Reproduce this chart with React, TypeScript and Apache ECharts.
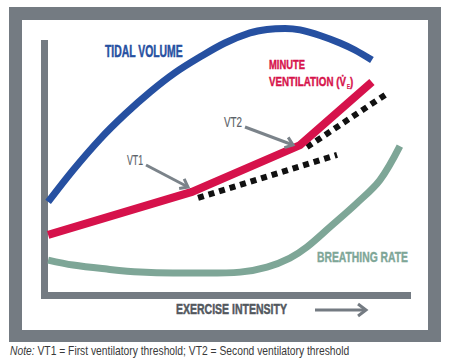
import React, { useEffect, useRef } from 'react';
import * as echarts from 'echarts';

// Exercise intensity (0-100, arbitrary units) and relative response (0-100)
const tvIntensity = [1, 7.9, 15.3, 22.2, 29.1, 35.9, 42.8, 49.7, 56.6, 61.3, 66.3, 70.4, 75.9, 81.4, 85.5, 90.2];
const tidalVolume = [37.0, 49.7, 62.0, 71.9, 80.7, 88.3, 94.6, 100.2, 104.2, 105.6, 106.0, 105.4, 103.2, 100.2, 97.4, 93.4];

const veIntensity = [1, 40.6, 70.4, 90.2];
const minuteVentilation = [23.9, 41.0, 59.6, 84.7];

const ext1Intensity = [42.3, 80.6];
const ext1Values = [38.6, 55.7];
const ext2Intensity = [72.3, 94.6];
const ext2Values = [58.8, 80.3];

const brIntensity = [1, 7.9, 17.2, 26.3, 35.4, 44.8, 53.9, 61.3, 67.6, 72.3, 78.6, 86.1, 92.4, 97.9];
const breathingRate = [13.9, 11.9, 10.3, 9.1, 8.7, 8.7, 9.1, 11.1, 14.7, 19.1, 27.0, 36.6, 45.7, 59.2];

const labels = {
  tv: 'TIDAL VOLUME',
  minute: 'MINUTE',
  vent: 'VENTILATION (V\u0307',
  ventSub: 'E',
  ventClose: ')',
  br: 'BREATHING RATE',
  vt1: 'VT1',
  vt2: 'VT2',
  xTitle: 'EXERCISE INTENSITY',
  noteItalic: 'Note:',
  note: ' VT1 = First ventilatory threshold; VT2 = Second ventilatory threshold',
};

const zip = (a: number[], b: number[]) => a.map((v, i) => [v, b[i]]);

const BLUE = '#2650a1';
const RED = '#d6124b';
const GREEN = '#7ea697';
const FRAME = '#747b82';
const ARROW = '#7b838a';
const FONT = "'Liberation Sans Narrow', 'Liberation Sans', Arial, sans-serif";

let measureCtx: CanvasRenderingContext2D | null = null;
function measure(text: string, size: number, weight: string, style = 'normal') {
  if (!measureCtx) measureCtx = document.createElement('canvas').getContext('2d');
  if (!measureCtx) return text.length * size * 0.5;
  measureCtx.font = `${style} ${weight} ${size}px ${FONT}`;
  return measureCtx.measureText(text).width;
}

function arrow(x1: number, y1: number, x2: number, y2: number, color: string, w: number, head: number) {
  const a = Math.atan2(y2 - y1, x2 - x1);
  const s = 0.65;
  return [
    { type: 'line', z: 100, shape: { x1, y1, x2, y2 }, style: { stroke: color, lineWidth: w } },
    {
      type: 'polyline', z: 100,
      shape: {
        points: [
          [x2 - head * Math.cos(a - s), y2 - head * Math.sin(a - s)],
          [x2, y2],
          [x2 - head * Math.cos(a + s), y2 - head * Math.sin(a + s)],
        ],
      },
      style: { stroke: color, lineWidth: w, fill: null },
    },
  ];
}

// text fitted to a target width (the reference uses a condensed face)
function txt(text: string, x: number, y: number, color: string, size: number, bold: boolean, width: number, stroke = 0) {
  const weight = bold ? 'bold' : 'normal';
  const sx = width / measure(text, size, weight);
  return {
    type: 'text', z: 100, x, y, scaleX: sx, scaleY: 1,
    style: {
      text, fill: color, fontSize: size, fontWeight: weight, fontFamily: FONT,
      align: 'left', verticalAlign: 'middle',
      ...(stroke ? { stroke: color, lineWidth: stroke } : {}),
    },
  };
}

export default function App() {
  const ref = useRef<HTMLDivElement>(null);
  useEffect(() => {
    const chart = echarts.init(ref.current!, null, { renderer: 'svg' });
    const axisLine = { show: true, lineStyle: { color: FRAME, width: 7, cap: 'square' } };
    const noteW = measure(labels.noteItalic, 12.5, 'normal', 'italic') + measure(labels.note, 12.5, 'normal');
    chart.setOption({
      animation: false,
      backgroundColor: '#ffffff',
      grid: { left: 44.5, right: 42.5, top: 43.5, bottom: 69 },
      xAxis: {
        type: 'value', min: 0, max: 100,
        axisLine, axisTick: { show: false }, axisLabel: { show: false }, splitLine: { show: false },
      },
      yAxis: {
        type: 'value', min: 0, max: 100,
        axisLine, axisTick: { show: false }, axisLabel: { show: false }, splitLine: { show: false },
      },
      series: [
        {
          type: 'line', name: 'Breathing rate', data: zip(brIntensity, breathingRate), smooth: 0.35,
          showSymbol: false, clip: false, lineStyle: { color: GREEN, width: 7 },
        },
        {
          type: 'line', name: 'Tidal volume', data: zip(tvIntensity, tidalVolume), smooth: 0.35,
          showSymbol: false, clip: false, lineStyle: { color: BLUE, width: 7 },
        },
        {
          type: 'line', name: 'Extrapolation 1', data: zip(ext1Intensity, ext1Values),
          showSymbol: false, clip: false, lineStyle: { color: '#111111', width: 6, type: [6, 5] },
        },
        {
          type: 'line', name: 'Extrapolation 2', data: zip(ext2Intensity, ext2Values),
          showSymbol: false, clip: false, lineStyle: { color: '#111111', width: 6, type: [6, 5] },
        },
        {
          type: 'line', name: 'Minute ventilation', data: zip(veIntensity, minuteVentilation),
          showSymbol: false, clip: false, lineStyle: { color: RED, width: 8, join: 'miter' },
        },
      ],
      graphic: [
        { type: 'rect', z: -10, shape: { x: 9, y: 7, width: 432, height: 335 }, style: { fill: FRAME } },
        { type: 'rect', z: -9, shape: { x: 22, y: 20, width: 406, height: 310 }, style: { fill: '#ffffff' } },
        txt(labels.tv, 105, 51.5, BLUE, 16.5, true, 78, 0.5),
        txt(labels.minute, 269, 64.5, RED, 13, true, 36, 0.4),
        txt(labels.vent, 269, 81, RED, 13, true, 77, 0.4),
        txt(labels.ventSub, 346.8, 86.5, RED, 7, true, 3.5),
        txt(labels.ventClose, 350, 81, RED, 13, true, 3.2, 0.4),
        txt(labels.br, 317, 257, GREEN, 14, true, 91, 0.4),
        txt(labels.vt1, 127, 160, '#5b6167', 14, false, 16, 0.2),
        txt(labels.vt2, 224, 122.5, '#5b6167', 14, false, 18, 0.2),
        txt(labels.xTitle, 176, 308.5, '#53585e', 15.5, true, 111, 0.5),
        {
          type: 'text', z: 100, x: 10, y: 350.5, scaleX: 340 / noteW,
          style: {
            text: `{i|${labels.noteItalic}}{n|${labels.note}}`,
            fontFamily: FONT, fill: '#3a3a3a', align: 'left', verticalAlign: 'middle',
            rich: {
              i: { fontSize: 12.5, fontStyle: 'italic', fill: '#3a3a3a', fontFamily: FONT },
              n: { fontSize: 12.5, fill: '#3a3a3a', fontFamily: FONT },
            },
          },
        },
        ...arrow(146, 165, 188, 187, ARROW, 3, 9),
        ...arrow(245, 127, 293, 145, ARROW, 3, 9),
        ...arrow(315, 310, 366, 310, FRAME, 3, 10),
      ],
    });
    return () => chart.dispose();
  }, []);
  return <div ref={ref} style={{ position: 'fixed', left: 0, top: 0, width: 450, height: 364 }} />;
}
